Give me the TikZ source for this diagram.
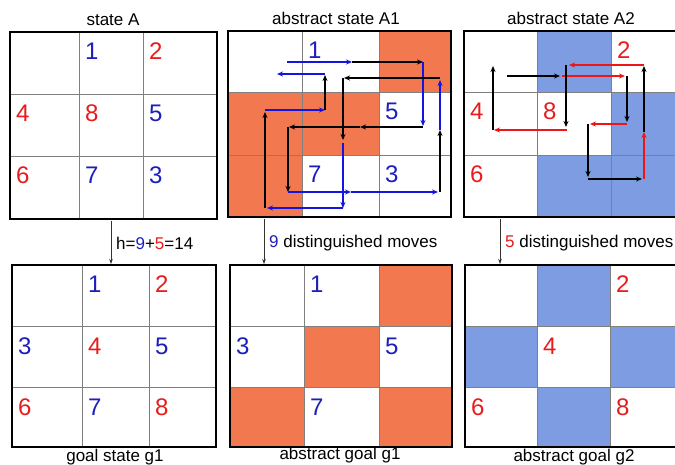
\documentclass[tikz,border=0pt]{standalone}
\usepackage{fontspec}
\setmainfont{Liberation Sans}
\usetikzlibrary{arrows.meta}
\definecolor{orfill}{RGB}{242,120,80}
\definecolor{blfill}{RGB}{125,156,226}
\definecolor{digblue}{RGB}{30,30,190}
\definecolor{digred}{RGB}{232,28,28}
\definecolor{arrblue}{RGB}{20,20,225}
\definecolor{arrred}{RGB}{240,20,20}
\definecolor{gridgray}{RGB}{128,128,128}
\tikzset{
  dig/.style={anchor=base west, inner sep=0pt, font=\fontsize{24}{24}\selectfont},
  lbl/.style={inner sep=0pt, font=\fontsize{17}{17}\selectfont},
  innerline/.style={draw=gridgray, line width=0.8pt},
  borderline/.style={draw=black, line width=2.2pt},
  arrtip/.style={-{Stealth[length=6pt,width=5pt]}, line width=1.4pt},
  barr/.style={arrtip, draw=arrblue},
  karr/.style={arrtip, draw=black},
  rarr/.style={arrtip, draw=arrred},
  conn/.style={-{Stealth[length=5pt,width=3.5pt]}, line width=0.6pt, draw=black!80},
}
% grid: #1..#4 x boundaries, #5..#8 y boundaries
\newcommand{\mygrid}[8]{%
  \draw[innerline] (#2,#5) -- (#2,#8) (#3,#5) -- (#3,#8) (#1,#6) -- (#4,#6) (#1,#7) -- (#4,#7);
  \draw[borderline] (#1,#5) rectangle (#4,#8);
}
\begin{document}
\begin{tikzpicture}[x=1pt,y=-1pt]
\useasboundingbox (0,0) rectangle (675,465);
\clip (0,0) rectangle (675,465);
\fill[white] (0,0) rectangle (675,465);

% ---------- titles ----------
\node[lbl] (tA) at (113,20) {state A};
\node[lbl] (tA1) at (336,18) {abstract state A1};
\node[lbl] (tA2) at (571,18) {abstract state A2};
\node[lbl] (tg1) at (115,457) {goal state g1};
\node[lbl] (tag1) at (340,455) {abstract goal g1};
\node[lbl] (tag2) at (574,457) {abstract goal g2};

% ---------- state A ----------
\mygrid{10}{79}{143}{217}{32}{94}{156}{219}
\node[dig,digblue] (sa1) at (85,60) {1};
\node[dig,digred]  (sa2) at (149,60) {2};
\node[dig,digred]  (sa4) at (16,122) {4};
\node[dig,digred]  (sa8) at (85,122) {8};
\node[dig,digblue] (sa5) at (149,122) {5};
\node[dig,digred]  (sa6) at (16,184) {6};
\node[dig,digblue] (sa7) at (85,184) {7};
\node[dig,digblue] (sa3) at (149,184) {3};

% ---------- abstract state A1 ----------
\fill[orfill] (379,31) rectangle (451,92);
\fill[orfill] (228,92) rectangle (379,155);
\fill[orfill] (228,155) rectangle (302,217);
\mygrid{228}{302}{379}{451}{31}{92}{155}{217}
\node[dig,digblue] (a11) at (308,59) {1};
\node[dig,digblue] (a15) at (385,120) {5};
\node[dig,digblue] (a17) at (308,183) {7};
\node[dig,digblue] (a13) at (385,183) {3};
% move arrows
\draw[barr] (287,62) -- (352,62);
\draw[karr] (352,62) -- (423,62);
\draw[barr] (423,62) -- (423,126);
\draw[karr] (423,127) -- (360,127);
\draw[karr] (360,127) -- (289,127);
\draw[karr] (288,127) -- (288,192);
\draw[barr] (288,192) -- (351,192);
\draw[barr] (351,192) -- (438,192);
\draw[karr] (440,192) -- (440,130);
\draw[barr] (440,130) -- (440,80);
\draw[karr] (440,78) -- (344,78);
\draw[karr] (343,78) -- (343,140);
\draw[barr] (343,143) -- (343,208);
\draw[barr] (343,208) -- (267,208);
\draw[karr] (265,208) -- (265,112);
\draw[barr] (265,110) -- (325,110);
\draw[karr] (325,110) -- (325,75);
\draw[barr] (325,74) -- (277,74);

% ---------- abstract state A2 ----------
\fill[blfill] (537,31) rectangle (611,92);
\fill[blfill] (611,92) rectangle (685,155);
\fill[blfill] (537,155) rectangle (685,217);
\mygrid{464}{537}{611}{685}{31}{92}{155}{217}
\node[dig,digred] (a22) at (617,59) {2};
\node[dig,digred] (a24) at (470,120) {4};
\node[dig,digred] (a28) at (543,120) {8};
\node[dig,digred] (a26) at (470,183) {6};
% move arrows
\draw[karr] (493,130) -- (493,66);
\draw[karr] (507,76) -- (560,76);
\draw[rarr] (562,76) -- (625,76);
\draw[karr] (627,76) -- (627,122);
\draw[rarr] (627,124) -- (590,124);
\draw[karr] (588,124) -- (588,177);
\draw[karr] (588,179) -- (642,179);
\draw[rarr] (644,179) -- (644,132);
\draw[karr] (644,132) -- (644,66);
\draw[rarr] (644,65) -- (569,65);
\draw[karr] (566,65) -- (566,127);
\draw[rarr] (567,130) -- (494,130);

% ---------- connectors ----------
\coordinate (c1s) at (111,221);
\coordinate (c1e) at (111,264);
\coordinate (c2s) at (264,219);
\coordinate (c2e) at (264,264);
\coordinate (c3s) at (500,219);
\coordinate (c3e) at (500,264);
\draw[conn] (c1s) -- (c1e);
\draw[conn] (c2s) -- (c2e);
\draw[conn] (c3s) -- (c3e);
\node[lbl,anchor=west] (h) at (116,243) {h=\textcolor{digblue}{9}+\textcolor{digred}{5}=14};
\node[lbl,anchor=west] (d9) at (269,243) {\textcolor{digblue}{9} distinguished moves};
\node[lbl,anchor=west] (d5) at (505,243) {\textcolor{digred}{5} distinguished moves};

% ---------- goal state g1 ----------
\mygrid{12}{82}{149}{216}{265}{326}{387}{447}
\node[dig,digblue] (g1) at (88,293) {1};
\node[dig,digred]  (g2) at (155,293) {2};
\node[dig,digblue] (g3) at (18,354) {3};
\node[dig,digred]  (g4) at (88,354) {4};
\node[dig,digblue] (g5) at (155,354) {5};
\node[dig,digred]  (g6) at (18,415) {6};
\node[dig,digblue] (g7) at (88,415) {7};
\node[dig,digred]  (g8) at (155,415) {8};

% ---------- abstract goal g1 ----------
\fill[orfill] (379,265) rectangle (452,326);
\fill[orfill] (304,326) rectangle (379,387);
\fill[orfill] (230,387) rectangle (304,447);
\fill[orfill] (379,387) rectangle (452,447);
\mygrid{230}{304}{379}{452}{265}{326}{387}{447}
\node[dig,digblue] (ag11) at (310,293) {1};
\node[dig,digblue] (ag13) at (236,354) {3};
\node[dig,digblue] (ag15) at (385,354) {5};
\node[dig,digblue] (ag17) at (310,415) {7};

% ---------- abstract goal g2 ----------
\fill[blfill] (537,265) rectangle (610,326);
\fill[blfill] (465,326) rectangle (537,387);
\fill[blfill] (610,326) rectangle (685,387);
\fill[blfill] (537,387) rectangle (610,447);
\mygrid{465}{537}{610}{685}{265}{326}{387}{447}
\node[dig,digred] (ag22) at (616,293) {2};
\node[dig,digred] (ag24) at (543,354) {4};
\node[dig,digred] (ag26) at (471,415) {6};
\node[dig,digred] (ag28) at (616,415) {8};
\end{tikzpicture}
\end{document}
